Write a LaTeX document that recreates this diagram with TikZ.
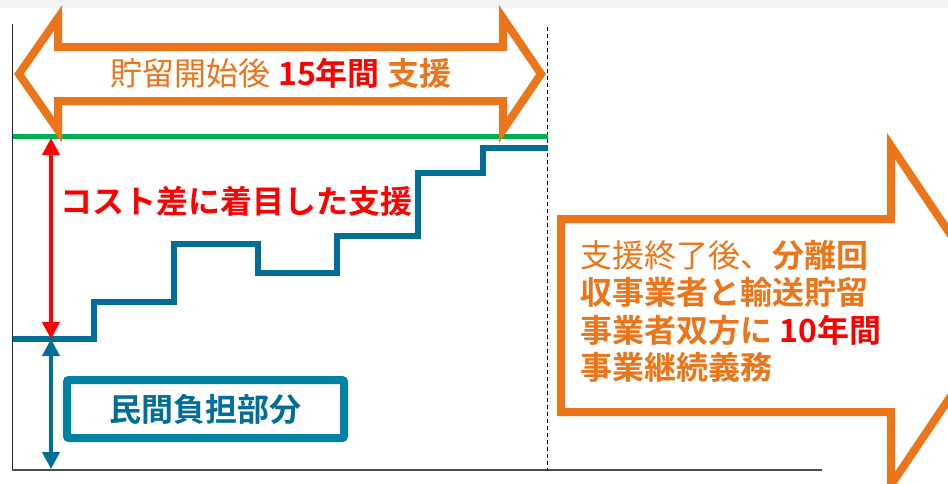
\documentclass[tikz,border=0pt]{standalone}
\usepackage{fontspec}
\setmainfont{Noto Sans CJK JP}[BoldFont={Noto Sans CJK JP Bold}]
\usepackage{xcolor}
\usetikzlibrary{arrows.meta, positioning}

\definecolor{ccsorange}{RGB}{236,117,26}
\definecolor{ccsgreen}{RGB}{0,176,80}
\definecolor{ccsblue}{RGB}{0,110,150}
\definecolor{ccsbox}{RGB}{0,130,165}
\definecolor{bandgray}{RGB}{242,244,245}

\tikzset{
    bigarrow/.style={draw=ccsorange, fill=white, line width=8pt},
    gaparrow/.style={line width=4pt, {Triangle[length=17pt,width=17pt]}-{Triangle[length=17pt,width=17pt]}},
    label/.style={inner sep=0pt},
}

\begin{document}
\begin{tikzpicture}[x=1pt, y=-1pt, font=\fontsize{32}{37.5}\selectfont]
    \useasboundingbox (0,0) rectangle (948,483);
    \clip (0,0) rectangle (948,483);
    \fill[bandgray] (0,0) rectangle (948,8);

    % axes
    \coordinate (ytop) at (12,24);
    \coordinate (origin) at (12,470);
    \coordinate (xend) at (822,470);
    \draw[black!85, line width=1pt] (ytop) -- (origin);
    \draw[black!70, line width=1.6pt] (origin) -- (xend);
    \draw[black, line width=1pt, dash pattern=on 4pt off 3pt] (547,27) -- (547,470);

    % cost levels
    \coordinate (capleft) at (13,136);
    \coordinate (capright) at (548,136);
    \draw[ccsgreen, line width=5pt] (capleft) -- (capright);
    \coordinate (stepstart) at (13,339);
    \draw[ccsblue, line width=6.5pt] (stepstart) -| (94,302) -| (174,244) -| (258,273)
        -| (337,236) -| (418,173) -| (483,148) -- (548,148);

    \coordinate (gaptop) at (51,138);
    \coordinate (gapbot) at (51,339);
    \coordinate (floor) at (51,469);
    \draw[gaparrow, red] (gaptop) -- (gapbot);
    \draw[gaparrow, ccsblue] (gapbot) -- (floor);

    % 15 years
    \draw[bigarrow] (19,74) -- (58,18) -- (58,47) -- (503,47) -- (503,18) -- (541,74)
        -- (503,130) -- (503,101) -- (58,101) -- (58,130) -- cycle;
    \node[label, text=ccsorange] (period) at (281,73) {貯留開始後 \textbf{\textcolor{red}{15年間}} \textbf{支援}};

    \node[label, text=red, anchor=west] (costgap) at (60,201) {\textbf{コスト差に着目した支援}};
    \node[draw=ccsbox, line width=8pt, rounded corners=2pt, minimum width=277pt, minimum height=58pt,
        text=ccsblue] (private) at (205.5,409) {\textbf{民間負担部分}};

    % after support
    \draw[bigarrow] (561,219) -- (891,219) -- (891,146) -- (1005,315.5) -- (891,485)
        -- (891,412) -- (561,412) -- cycle;
    \node[label, text=ccsorange, anchor=west, align=left] (obligation) at (580,311.5)
        {支援終了後、\textbf{分離回}\\
         \textbf{収事業者と輸送貯留}\\
         \textbf{事業者双方に \textcolor{red}{10年間}}\\
         \textbf{事業継続義務}};
\end{tikzpicture}
\end{document}
